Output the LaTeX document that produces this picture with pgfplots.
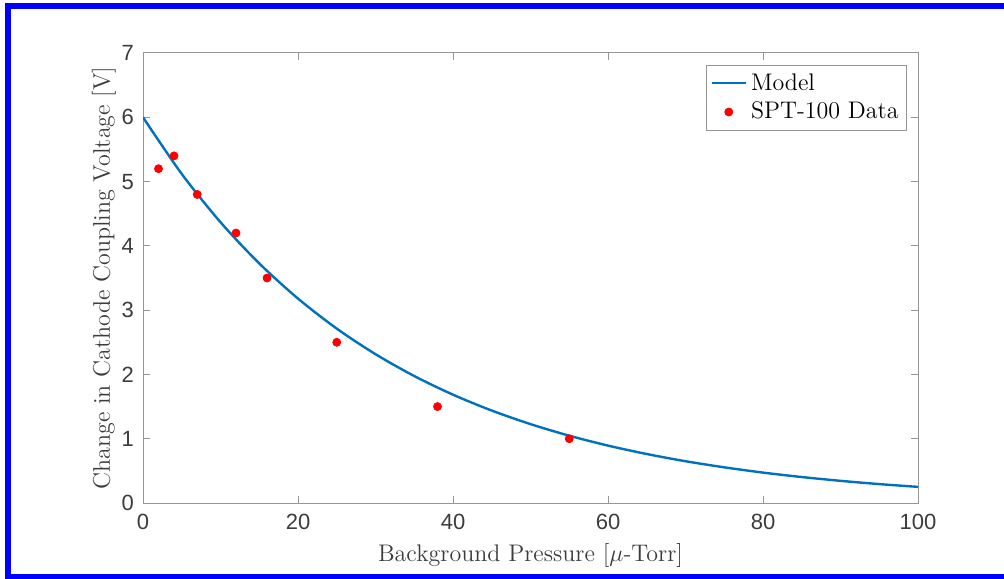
\documentclass[border=0pt]{standalone}
\usepackage{fontspec}
\usepackage{pgfplots}
\pgfplotsset{compat=1.18}
\newfontfamily\arialf{Liberation Sans}
\definecolor{mblue}{RGB}{0,114,189}
\definecolor{axgray}{RGB}{150,150,150}
\definecolor{txtgray}{RGB}{60,60,60}
\begin{document}
\begin{tikzpicture}
\useasboundingbox (-71.5pt,-37.5pt) rectangle (430.5pt,251.5pt);
\draw[blue, line width=3pt] (430.5pt,248.5pt) -- (-67.5pt,248.5pt) -- (-67.5pt,-37pt) -- (430.5pt,-37pt);
\begin{axis}[
  at={(0pt,0pt)}, anchor=south west,
  scale only axis, width=387.5pt, height=225pt,
  xmin=0, xmax=100, ymin=0, ymax=7,
  xtick={0,20,...,100}, ytick={0,1,...,7},
  tick align=inside, major tick length=3.5pt,
  axis line style={axgray, line width=0.5pt},
  every tick/.style={axgray, line width=0.5pt},
  /pgf/number format/assume math mode=true,
  tick label style={font=\arialf\fontsize{11}{13}\selectfont, text=txtgray},
  xticklabel style={yshift=-2pt},
  yticklabel style={xshift=-1pt},
  label style={font=\fontsize{12}{14}\selectfont, text=txtgray},
  xlabel={Background Pressure [$\mu$-Torr]},
  ylabel={Change in Cathode Coupling Voltage [V]},
  xlabel style={yshift=0pt},
  ylabel style={yshift=-4pt},
  legend style={at={(rel axis cs:1,1)}, anchor=north east, xshift=-5.5pt, yshift=-6pt,
    draw=axgray, fill=white, font=\fontsize{12}{14}\selectfont, text=black,
    inner xsep=2pt, inner ysep=2pt, row sep=0.5pt},
  legend cell align=left,
]
\addplot[mblue, line width=1.2pt, smooth] coordinates {
(0,6.000) (5,5.119) (10,4.368) (15,3.727) (20,3.180) (25,2.713) (30,2.315)
(35,1.975) (40,1.685) (45,1.438) (50,1.227) (55,1.047) (60,0.893) (65,0.762)
(70,0.650) (75,0.555) (80,0.473) (85,0.404) (90,0.345) (95,0.294) (100,0.251)
};
\addlegendentry{Model}
\addplot[only marks, mark=*, mark size=2pt, red] coordinates {
(2,5.2) (4,5.4) (7,4.8) (12,4.2) (16,3.5) (25,2.5) (38,1.5) (55,1.0)
};
\addlegendentry{SPT-100 Data}
\end{axis}
\end{tikzpicture}
\end{document}
